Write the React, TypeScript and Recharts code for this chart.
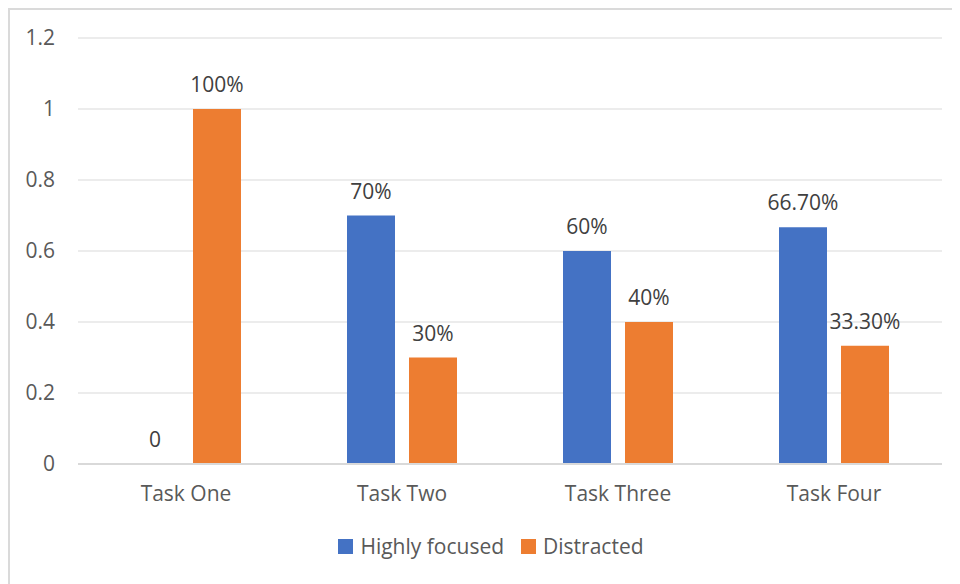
import { Bar, BarChart, CartesianGrid, LabelList, Legend, XAxis, YAxis } from "recharts";

const tasks = ["Task One", "Task Two", "Task Three", "Task Four"];
const highlyFocused = [0, 0.7, 0.6, 0.667];
const distracted = [1, 0.3, 0.4, 0.333];
const focusedLabels = ["0", "70%", "60%", "66.70%"];
const distractedLabels = ["100%", "30%", "40%", "33.30%"];
const yTicks = [0, 0.2, 0.4, 0.6, 0.8, 1, 1.2];

const BLUE = "#4472C4";
const ORANGE = "#ED7D31";
const TEXT = "#595959";
const GRID = "#D9D9D9";
const FONT = "'Open Sans', 'Noto Sans', sans-serif";
const FS = 21;

const data = tasks.map((task, i) => ({
  task,
  focused: highlyFocused[i],
  distracted: distracted[i],
  focusedLabel: focusedLabels[i],
  distractedLabel: distractedLabels[i],
}));

function ChartLegend() {
  const items = [
    { name: "Highly focused", color: BLUE },
    { name: "Distracted", color: ORANGE },
  ];
  return (
    <div
      style={{
        display: "flex",
        justifyContent: "center",
        gap: 17,
        paddingLeft: 30,
        fontFamily: FONT,
        fontSize: FS,
        color: TEXT,
        lineHeight: "28px",
      }}
    >
      {items.map((it) => (
        <span key={it.name} style={{ display: "inline-flex", alignItems: "center" }}>
          <span style={{ width: 15, height: 15, background: it.color, marginRight: 7, display: "inline-block" }} />
          {it.name}
        </span>
      ))}
    </div>
  );
}

// value label centred above each bar
function ValueLabel(props: any) {
  const { x, y, width, value } = props;
  if (value == null) return null;
  return (
    <text x={x + width / 2} y={y - 17} textAnchor="middle" fill="#404040" fontSize={FS} fontFamily={FONT}>
      {value}
    </text>
  );
}

// zero values still need a (flat) rectangle so their label gets drawn
const keepZero = (value: any) => (value === 0 ? 0.01 : 0);

export default function App() {
  return (
    <div
      style={{
        width: 950,
        height: 574,
        borderTop: "2px solid #DADADA",
        borderLeft: "2px solid #DADADA",
        background: "#fff",
      }}
    >
      <BarChart
        width={950}
        height={574}
        data={data}
        margin={{ top: 28, right: 18, left: 0, bottom: 42 }}
        barSize={48}
        barGap={14}
      >
        <CartesianGrid vertical={false} stroke={GRID} strokeWidth={1} />
        <XAxis
          dataKey="task"
          axisLine={{ stroke: GRID, strokeWidth: 2 }}
          tickLine={false}
          tickSize={0}
          tickMargin={22}
          height={50}
          tick={{ fill: TEXT, fontSize: FS, fontFamily: FONT }}
        />
        <YAxis
          domain={[0, 1.2]}
          ticks={yTicks}
          axisLine={false}
          tickLine={false}
          tickSize={0}
          tickMargin={23}
          width={68}
          tick={{ fill: TEXT, fontSize: FS, fontFamily: FONT }}
        />
        <Legend verticalAlign="bottom" wrapperStyle={{ bottom: 24 }} content={<ChartLegend />} />
        <Bar dataKey="focused" name="Highly focused" fill={BLUE} minPointSize={keepZero} isAnimationActive={false}>
          <LabelList dataKey="focusedLabel" content={<ValueLabel />} />
        </Bar>
        <Bar dataKey="distracted" name="Distracted" fill={ORANGE} isAnimationActive={false}>
          <LabelList dataKey="distractedLabel" content={<ValueLabel />} />
        </Bar>
      </BarChart>
    </div>
  );
}
